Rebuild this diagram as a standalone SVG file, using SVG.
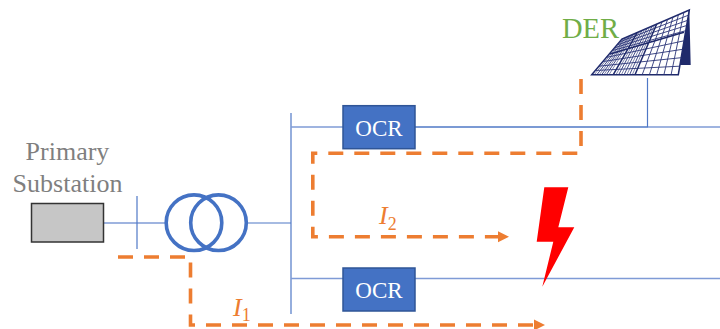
<svg xmlns="http://www.w3.org/2000/svg" width="720" height="329" viewBox="0 0 720 329">
<style>
.wire{fill:none;stroke:#7f9bd6;stroke-width:1.4}
.bus{fill:none;stroke:#4f78c6;stroke-width:1.2}
.flow{fill:none;stroke:#ed7d31;stroke-width:3.6;stroke-dasharray:15 11}
.ocr{fill:#4472c4;stroke:#2f5597;stroke-width:1.5}
.ocrt{font-family:"Liberation Serif",serif;font-size:23px;fill:#fff;text-anchor:middle}
.lab{font-family:"Liberation Serif",serif;font-size:26px;fill:#7f7f7f;text-anchor:middle}
.cur{font-family:"Liberation Serif",serif;font-size:26px;font-style:italic;fill:#ed7d31}
.sub{font-size:18px;font-style:normal}
.coil{fill:none;stroke:#4472c4;stroke-width:3.6}
</style>
<defs>
<marker id="arr" markerUnits="userSpaceOnUse" markerWidth="12" markerHeight="12" refX="0" refY="6" orient="auto">
<path d="M0 0.5L11 6L0 11.5Z" fill="#ed7d31"/>
</marker>
</defs>
<g id="connectors">
<path class="wire" d="M103 223H166"/>
<path class="bus" d="M137 196V249"/>
<path class="bus" d="M247 223H291"/>
<path class="bus" d="M291 113V314"/>
<path class="wire" d="M291 127H343"/>
<path class="bus" d="M415 127H648" style="stroke-width:1.5"/>
<path class="wire" d="M648 127H720"/>
<path class="bus" d="M647.500 78V127"/>
<path class="wire" d="M291 278.500H343M415 278.500H720"/>
<path class="flow" marker-end="url(#arr)" d="M118 257H190.500V325H534"/>
<path class="flow" marker-end="url(#arr)" d="M581 79V153.300H312.800V236.700H498"/>
</g>
<g id="primary-substation">
<rect x="31.500" y="203.500" width="72" height="38.500" fill="#c6c6c6" stroke="#333" stroke-width="1.500"/>
<text class="lab" x="67.500" y="160">Primary</text>
<text class="lab" x="67.500" y="192">Substation</text>
</g>
<g id="transformer">
<circle class="coil" cx="194" cy="222.700" r="27.800"/>
<circle class="coil" cx="218.500" cy="222.700" r="27.800"/>
</g>
<g id="ocr-1">
<rect class="ocr" x="343" y="105.700" width="72" height="43"/>
<text class="ocrt" x="379" y="135.700">OCR</text>
</g>
<g id="ocr-2">
<rect class="ocr" x="343" y="268" width="72" height="43"/>
<text class="ocrt" x="379" y="297.500">OCR</text>
</g>
<g id="der">
<text x="562" y="37.500" font-family="Liberation Serif,serif" font-size="28.500" fill="#70ad47">DER</text>
<path d="M684 33.300L689.300 10L690.700 65L679.300 65L678.300 74.700L672 74.700Z" fill="#1f2a6b"/>
<path d="M621.700 39.300L689.300 10L678.300 74.700H591.700Z" fill="#fff" stroke="#1f2a6b" stroke-width="1.500"/>
<path d="M619.300 42.100L688.400 15.200M616.900 45L687.500 20.400M614.500 47.800L686.700 25.500M612.100 50.600L685.800 30.700M606.400 57.400L684.100 40.800M602.800 61.600L682.600 49.300M598.900 66.200L681.200 57.700M595.300 70.500L679.700 66.200M625.800 37.500L596.900 74.700M629.500 35.900L601.700 74.700M633.200 34.300L606.400 74.700M642 30.500L618.700 74.700M647 28.300L624.100 74.700M652.100 26.100L629.600 74.700M662.100 21.700L642.200 74.700M667.600 19.300L649.400 74.700M673 17L656.700 74.700M678.400 14.700L663.900 74.700M683.900 12.300L671.100 74.700" fill="none" stroke="#2b3678" stroke-width="0.900"/>
<path d="M623.800 38.400L594.300 74.700M627.700 36.700L599.300 74.700M631.400 35.100L604 74.700M635.200 33.500L609 74.700M639.700 31.500L616 74.700M644.500 29.400L621.400 74.700M649.500 27.200L626.900 74.700M654.400 25.100L632.300 74.700" fill="none" stroke="#2b3678" stroke-width="0.600"/>
<path d="M637.300 32.300L613.300 74.700M656.700 24L635 74.700M610 54L684 32.300" fill="none" stroke="#1f2a6b" stroke-width="1.500"/>
</g>
<g id="fault">
<polygon points="544.300,187.300 568.300,187.300 558.300,227.300 574.300,227.300 542.300,286.700 553.300,241.700 536.700,241.700" fill="#f00"/>
</g>
<g id="current-labels">
<text class="cur" x="233" y="316">I<tspan class="sub" dx="0" dy="5">1</tspan></text>
<text class="cur" x="379" y="224">I<tspan class="sub" dx="0" dy="6">2</tspan></text>
</g>
</svg>
